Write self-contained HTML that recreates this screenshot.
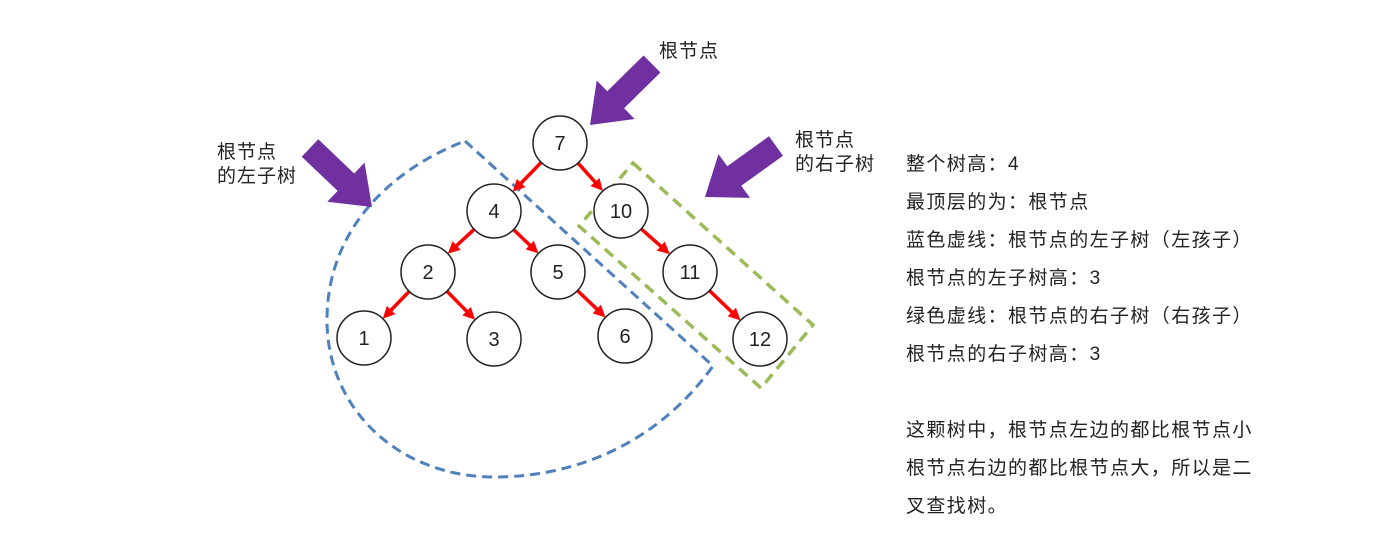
<!DOCTYPE html>
<html><head><meta charset="utf-8"><style>
body{margin:0;background:#fff;width:1382px;height:553px;overflow:hidden;font-family:"Liberation Sans","Noto Sans CJK SC",sans-serif}
svg{position:absolute;left:0;top:0}
.t{position:absolute;font-size:19px;letter-spacing:1px;color:#222;white-space:nowrap}
</style></head><body>
<svg width="1382" height="553" id="s">
<path d="M465,141 L713,366 C660,440 580,477 494,477 C400,477 327,410 327,320 C327,230 390,170 465,141" fill="none" stroke="#4f81bd" stroke-width="3" stroke-dasharray="10,6"/>
<polygon points="633,163 813,325 761,388 579,226" fill="none" stroke="#9bbb59" stroke-width="3.5" stroke-dasharray="11,7"/>
<g id="edges" stroke="#f00" stroke-width="3.5"></g>
<g id="arrows" fill="#7030a0"></g>
<g id="nodes" fill="#fff" stroke="#222" stroke-width="1.5" font-size="20" font-family="Liberation Sans,sans-serif"></g>
</svg>
<div class="t" style="left:659px;top:36px">根节点</div>
<div class="t" style="left:217px;top:141px;line-height:24px">根节点<br>的左子树</div>
<div class="t" style="left:795px;top:129px;line-height:24px">根节点<br>的右子树</div>
<div class="t" style="left:906px;top:146px;line-height:38px;letter-spacing:1.4px">整个树高：4<br>最顶层的为：根节点<br>蓝色虚线：根节点的左子树（左孩子）<br>根节点的左子树高：3<br>绿色虚线：根节点的右子树（右孩子）<br>根节点的右子树高：3<br><br>这颗树中，根节点左边的都比根节点小<br>根节点右边的都比根节点大，所以是二<br>叉查找树。</div>
<script>
var N={7:[560,143],4:[494,211],10:[621,211],2:[428,272],5:[558,272],11:[690,272],1:[364,338],3:[494,339],6:[625,336],12:[760,339]};
var E=[[7,4],[7,10],[4,2],[4,5],[10,11],[2,1],[2,3],[5,6],[11,12]];
var ns="http://www.w3.org/2000/svg",r=27;
var eg=document.getElementById('edges'),ng=document.getElementById('nodes'),ag=document.getElementById('arrows');
E.forEach(function(e){var a=N[e[0]],b=N[e[1]],dx=b[0]-a[0],dy=b[1]-a[1],l=Math.hypot(dx,dy),ux=dx/l,uy=dy/l;
var x1=a[0]+ux*r,y1=a[1]+uy*r,x2=b[0]-ux*r,y2=b[1]-uy*r;
var ln=document.createElementNS(ns,'line');ln.setAttribute('x1',x1);ln.setAttribute('y1',y1);ln.setAttribute('x2',x2-ux*8);ln.setAttribute('y2',y2-uy*8);eg.appendChild(ln);
var p=document.createElementNS(ns,'polygon');var px=-uy,py=ux;
p.setAttribute('points',[x2,y2,x2-ux*12+px*6,y2-uy*12+py*6,x2-ux*12-px*6,y2-uy*12-py*6].join(','));p.setAttribute('fill','#f00');p.setAttribute('stroke','none');eg.appendChild(p);});
for(var k in N){var c=document.createElementNS(ns,'circle');c.setAttribute('cx',N[k][0]);c.setAttribute('cy',N[k][1]);c.setAttribute('r',r);ng.appendChild(c);
var t=document.createElementNS(ns,'text');t.setAttribute('x',N[k][0]);t.setAttribute('y',N[k][1]+7);t.setAttribute('text-anchor','middle');t.setAttribute('fill','#222');t.setAttribute('stroke','none');t.textContent=k;ng.appendChild(t);}
function arrow(tx,ty,hx,hy){var dx=hx-tx,dy=hy-ty,l=Math.hypot(dx,dy),ux=dx/l,uy=dy/l,px=-uy,py=ux,sw=12,hw=27,hl=36;
var bx=hx-ux*hl,by=hy-uy*hl;var pts=[tx+px*sw,ty+py*sw,bx+px*sw,by+py*sw,bx+px*hw,by+py*hw,hx,hy,bx-px*hw,by-py*hw,bx-px*sw,by-py*sw,tx-px*sw,ty-py*sw];
var p=document.createElementNS(ns,'polygon');p.setAttribute('points',pts.join(','));ag.appendChild(p);}
arrow(310,148,372,207);arrow(652,64,590,125);arrow(776,146,705,197);
</script>
</body></html>
